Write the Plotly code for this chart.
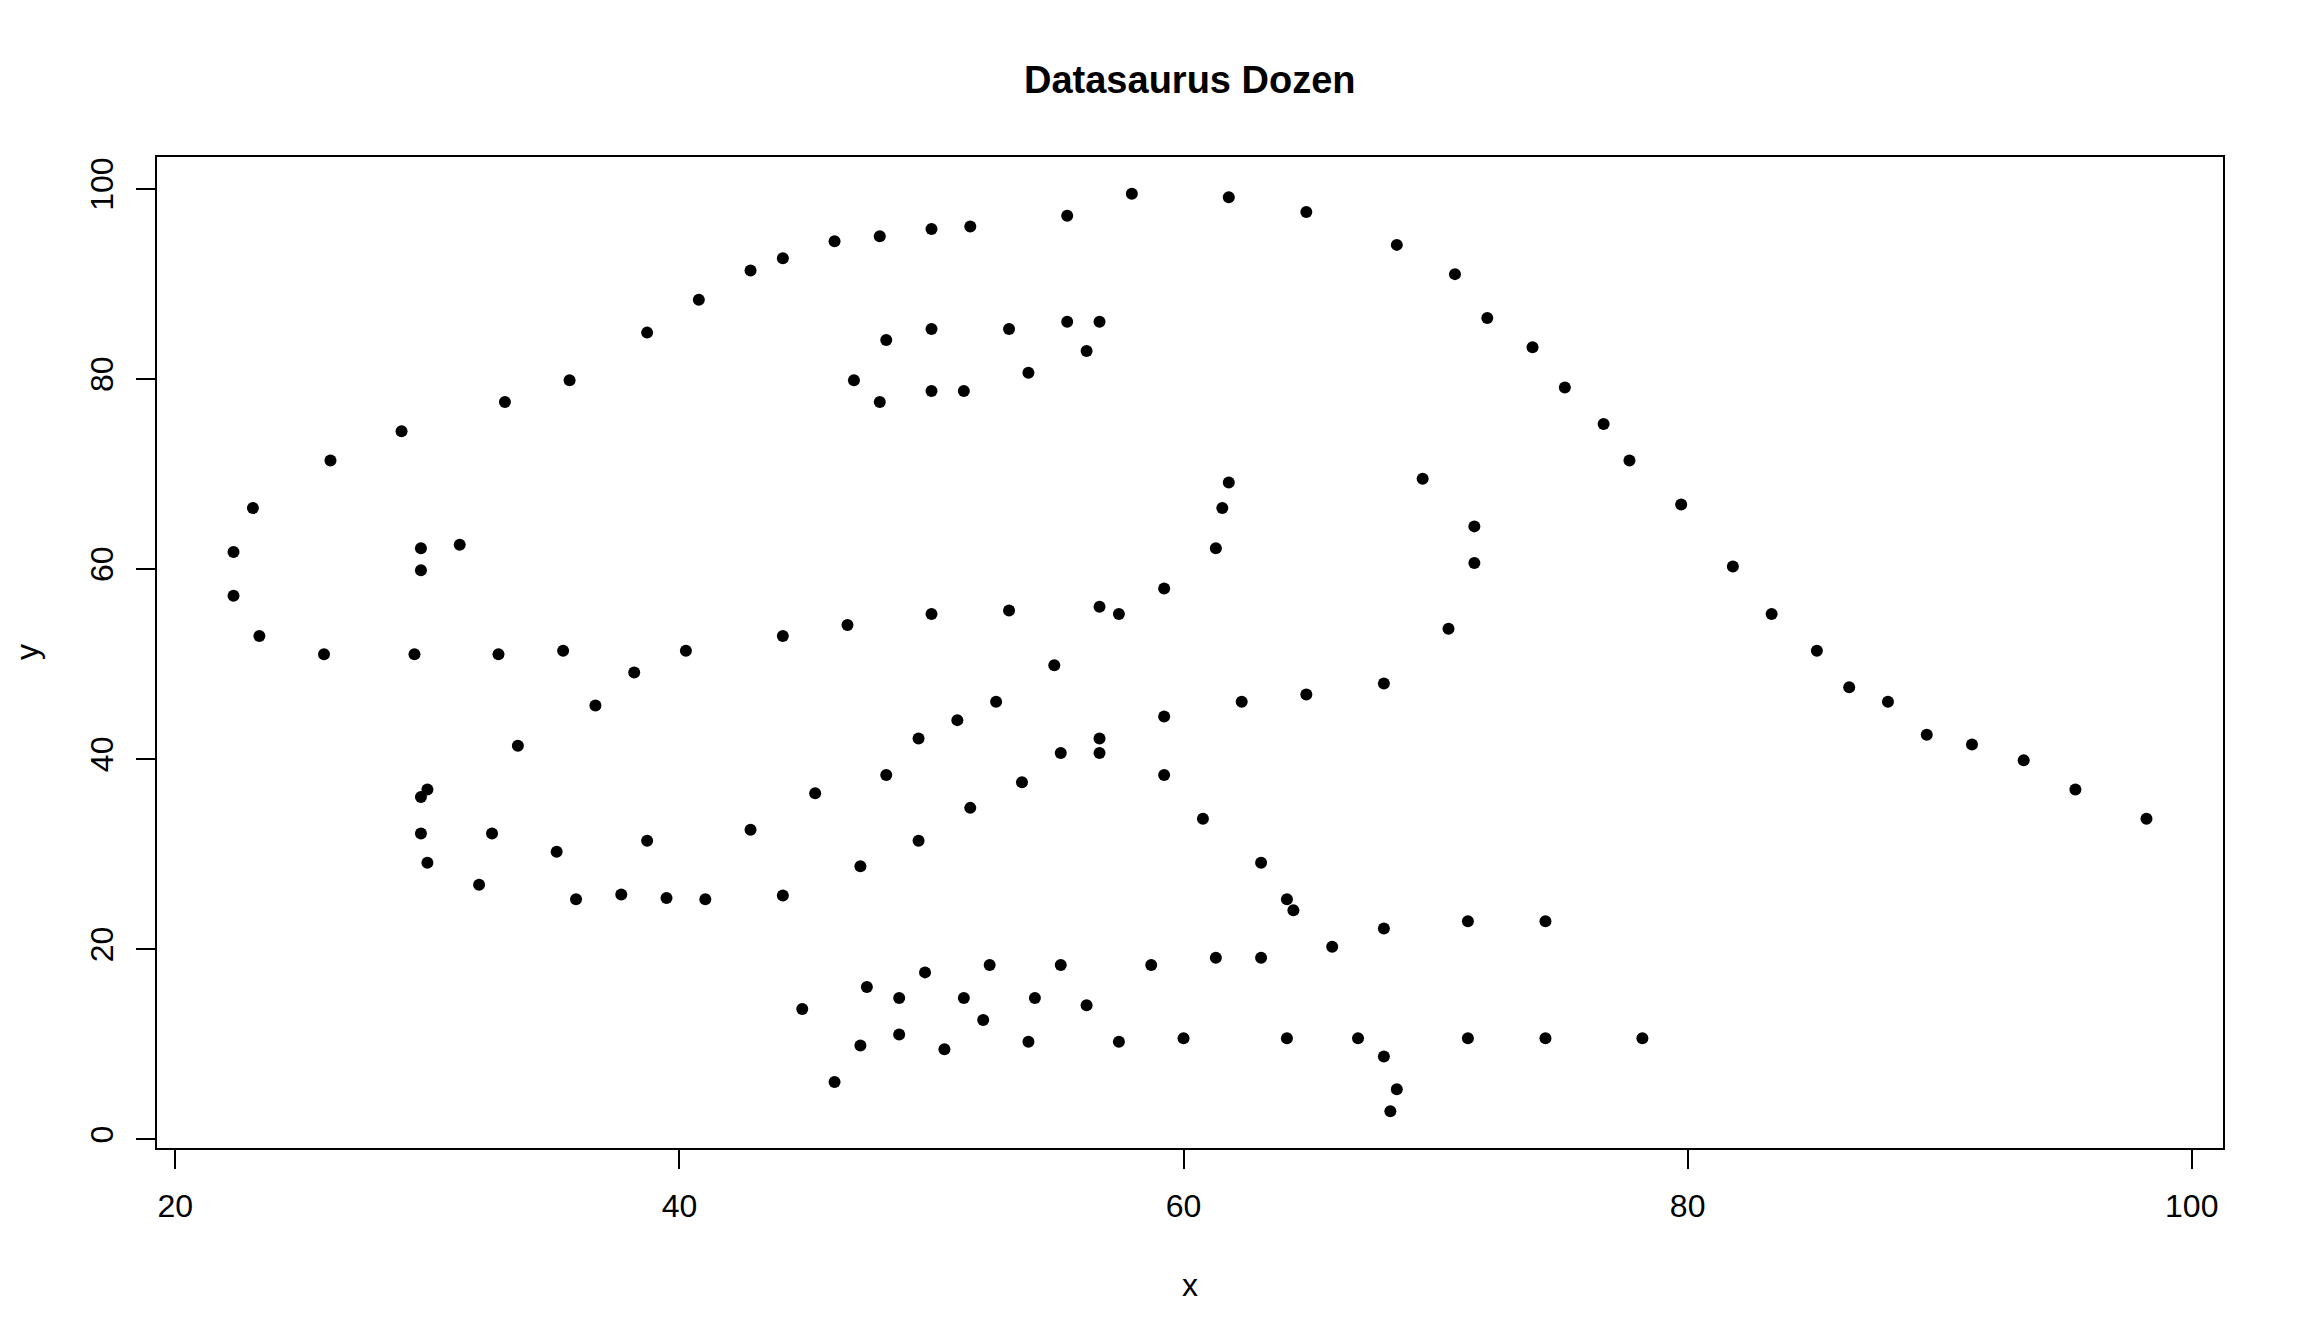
import plotly.graph_objects as go

x = [55.3846,51.5385,46.1538,42.8205,40.7692,38.7179,35.641,33.0769,28.9744,26.1538,
     23.0769,22.3077,22.3077,23.3333,25.8974,29.4872,32.8205,35.3846,40.2564,44.1026,
     46.6667,50.0,53.0769,56.6667,59.2308,61.2821,61.5385,61.7949,57.4359,54.8718,
     52.5641,48.2051,49.4872,51.0256,45.3846,42.8205,38.7179,35.1282,32.5641,30.0,
     33.5897,36.6667,38.2051,29.7436,29.7436,30.0,32.0513,35.8974,41.0256,44.1026,
     47.1795,49.4872,51.5385,53.5897,55.1282,56.6667,59.2308,62.3077,64.8718,67.9487,
     70.5128,71.5385,71.5385,69.4872,46.9231,48.2051,50.0,53.0769,55.3846,56.6667,
     56.1538,53.8462,51.2821,50.0,47.9487,29.7436,29.7436,31.2821,57.9487,61.7949,
     64.8718,68.4615,70.7692,72.0513,73.8462,75.1282,76.6667,77.6923,79.7436,81.7949,
     83.3333,85.1282,86.4103,87.9487,89.4872,93.3333,95.3846,98.2051,56.6667,59.2308,
     60.7692,63.0769,64.1026,64.359,74.359,71.2821,67.9487,65.8974,63.0769,61.2821,
     58.7179,55.1282,52.3077,49.7436,47.4359,44.8718,48.7179,51.2821,54.1026,56.1538,
     52.0513,48.7179,47.1795,46.1538,50.5128,53.8462,57.4359,60.0,64.1026,66.9231,
     71.2821,74.359,78.2051,67.9487,68.4615,68.2051,37.6923,39.4872,91.2821,50.0,
     47.9487,44.1026]
y = [97.1795,96.0256,94.4872,91.4103,88.3333,84.8718,79.8718,77.5641,74.4872,71.4103,
     66.4103,61.7949,57.1795,52.9487,51.0256,51.0256,51.0256,51.4103,51.4103,52.9487,
     54.1026,55.2564,55.641,56.0256,57.9487,62.1795,66.4103,69.1026,55.2564,49.8718,
     46.0256,38.3333,42.1795,44.1026,36.4103,32.5641,31.4103,30.2564,32.1795,36.7949,
     41.4103,45.641,49.1026,36.0256,32.1795,29.1026,26.7949,25.2564,25.2564,25.641,
     28.718,31.4103,34.8718,37.5641,40.641,42.1795,44.4872,46.0256,46.7949,47.9487,
     53.718,60.641,64.4872,69.4872,79.8718,84.1026,85.2564,85.2564,86.0256,86.0256,
     82.9487,80.641,78.718,78.718,77.5641,59.8718,62.1795,62.5641,99.4872,99.1026,
     97.5641,94.1026,91.0256,86.4103,83.3333,79.1026,75.2564,71.4103,66.7949,60.2564,
     55.2564,51.4103,47.5641,46.0256,42.5641,39.8718,36.7949,33.718,40.641,38.3333,
     33.718,29.1026,25.2564,24.1026,22.9487,22.9487,22.1795,20.2564,19.1026,19.1026,
     18.3333,18.3333,18.3333,17.5641,16.0256,13.7179,14.8718,14.8718,14.8718,14.1026,
     12.5641,11.0256,9.8718,6.0256,9.4872,10.2564,10.2564,10.641,10.641,10.641,
     10.641,10.641,10.641,8.718,5.2564,2.9487,25.7692,25.3846,41.5385,95.7692,
     95.0,92.6923]

x_ticks = [20, 40, 60, 80, 100]
y_ticks = [0, 20, 40, 60, 80, 100]
title = "Datasaurus Dozen"

FONT = "Liberation Sans, Arial, Helvetica, sans-serif"

fig = go.Figure(go.Scatter(x=x, y=y, mode="markers",
                           marker=dict(color="black", size=12, line=dict(width=0))))

OFF = 8  # page body margin
W, H = 2304 - 2 * OFF, 1344 - 2 * OFF
# plot box in page pixel coordinates
L, R, T, B = 157 - OFF, 2223 - OFF, 157 - OFF, 1148 - OFF
pw, ph = R - L, B - T

fig.update_layout(
    width=W, height=H,
    margin=dict(l=L, r=W - R, t=T, b=H - B, pad=0),
    paper_bgcolor="white", plot_bgcolor="white",
    showlegend=False,
    font=dict(family=FONT, color="black", size=32),
)
xmin, xmax = min(x), max(x)
ymin, ymax = min(y), max(y)
dx, dy = (xmax - xmin) * 0.04, (ymax - ymin) * 0.04
fig.update_xaxes(range=[xmin - dx, xmax + dx], showgrid=False, zeroline=False,
                 showline=True, mirror=True, linecolor="black", linewidth=2,
                 ticks="outside", ticklen=19, tickwidth=2, tickcolor="black",
                 tickvals=x_ticks, ticktext=[str(v) for v in x_ticks],
                 tickfont=dict(size=32, family=FONT), ticklabelstandoff=10)
fig.update_yaxes(range=[ymin - dy, ymax + dy], showgrid=False, zeroline=False,
                 showline=True, mirror=True, linecolor="black", linewidth=2,
                 ticks="outside", ticklen=19, tickwidth=2, tickcolor="black",
                 tickvals=y_ticks, ticktext=[str(v) for v in y_ticks],
                 tickangle=-90,
                 tickfont=dict(size=32, family=FONT), ticklabelstandoff=10)

def py2paper(py):
    return (B - (py - OFF)) / ph

def px2paper(pxv):
    return ((pxv - OFF) - L) / pw

fig.add_annotation(text="<b>" + title + "</b>", x=px2paper(1190), y=py2paper(80),
                   xref="paper", yref="paper", showarrow=False,
                   xanchor="center", yanchor="middle",
                   font=dict(size=38, family=FONT, color="black"))
fig.add_annotation(text="x", x=px2paper(1190), y=py2paper(1285),
                   xref="paper", yref="paper", showarrow=False,
                   xanchor="center", yanchor="middle",
                   font=dict(size=32, family=FONT, color="black"))
fig.add_annotation(text="y", x=px2paper(27), y=py2paper(652),
                   xref="paper", yref="paper", showarrow=False, textangle=-90,
                   xanchor="center", yanchor="middle",
                   font=dict(size=32, family=FONT, color="black"))

fig.write_html("out.html")
